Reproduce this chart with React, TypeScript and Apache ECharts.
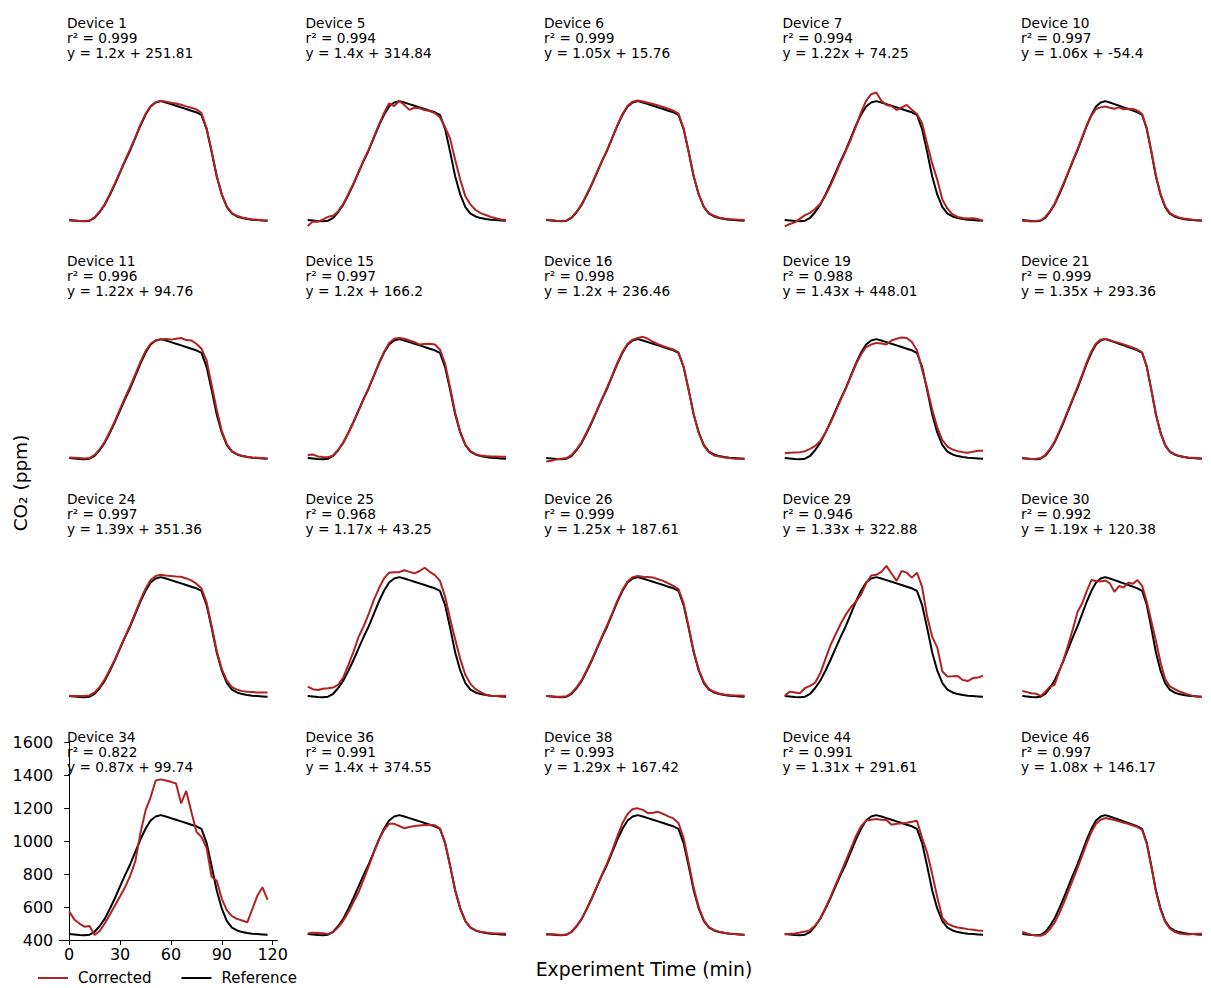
import React, { useEffect, useRef } from "react";
import * as echarts from "echarts";

// Time grid (min)
const T = [0, 3, 6, 9, 12, 15, 18, 21, 24, 27, 30, 33, 36, 39, 42, 45, 48, 51, 54, 57, 60, 63, 66, 69, 72, 75, 78, 81, 84, 87, 90, 93, 96, 99, 102, 105, 108, 111, 114, 117];

// Reference instrument CO2 (ppm)
const REF = [436, 433, 430, 429, 432, 450, 485, 530, 590, 655, 725, 795, 860, 935, 1010, 1075, 1125, 1150, 1158, 1150, 1140, 1130, 1120, 1110, 1100, 1090, 1075, 990, 850, 700, 590, 515, 475, 458, 448, 442, 438, 436, 434, 432];

// Corrected device CO2 (ppm)
const D1 = [434, 432, 430, 431, 433, 452, 488, 532, 595, 660, 730, 800, 868, 940, 1015, 1080, 1128, 1152, 1160, 1155, 1148, 1143, 1136, 1126, 1118, 1108, 1085, 995, 855, 705, 592, 518, 478, 462, 452, 446, 441, 438, 435, 433];
const D5 = [400, 428, 426, 440, 456, 462, 490, 535, 595, 658, 728, 800, 865, 940, 1015, 1085, 1145, 1128, 1160, 1135, 1105, 1118, 1115, 1104, 1098, 1085, 1060, 1000, 930, 800, 680, 580, 530, 497, 478, 467, 455, 447, 440, 436];
const D6 = [438, 436, 432, 431, 434, 452, 487, 533, 594, 658, 728, 798, 864, 938, 1012, 1080, 1130, 1155, 1162, 1156, 1148, 1140, 1132, 1122, 1112, 1100, 1082, 995, 852, 702, 590, 516, 478, 462, 452, 446, 442, 440, 438, 436];
const D7 = [398, 412, 422, 445, 466, 480, 505, 535, 585, 645, 715, 788, 855, 925, 1005, 1090, 1160, 1200, 1210, 1160, 1135, 1128, 1104, 1120, 1135, 1105, 1080, 1025, 900, 780, 680, 560, 505, 470, 455, 448, 445, 447, 442, 432];
const D10 = [432, 430, 428, 430, 435, 455, 490, 535, 598, 662, 730, 800, 868, 940, 1012, 1070, 1110, 1120, 1125, 1118, 1112, 1120, 1108, 1112, 1110, 1100, 1080, 995, 855, 705, 595, 520, 480, 462, 452, 446, 442, 438, 436, 434];
const D11 = [440, 438, 436, 434, 436, 455, 490, 535, 598, 662, 735, 805, 872, 945, 1020, 1085, 1130, 1150, 1155, 1158, 1155, 1160, 1165, 1152, 1150, 1130, 1100, 1030, 880, 730, 600, 520, 478, 460, 450, 444, 440, 438, 436, 434];
const D15 = [455, 458, 446, 442, 441, 452, 485, 530, 590, 655, 725, 795, 862, 936, 1012, 1080, 1135, 1160, 1165, 1160, 1150, 1140, 1125, 1128, 1130, 1125, 1095, 1010, 865, 710, 595, 518, 478, 460, 452, 448, 446, 445, 444, 444];
const D16 = [415, 420, 428, 432, 436, 455, 490, 535, 596, 660, 728, 798, 866, 940, 1015, 1082, 1130, 1155, 1165, 1172, 1160, 1142, 1128, 1115, 1105, 1095, 1078, 992, 850, 700, 588, 510, 470, 452, 445, 440, 436, 432, 434, 430];
const D19 = [465, 468, 470, 472, 478, 492, 510, 540, 590, 650, 718, 790, 858, 930, 1005, 1065, 1110, 1125, 1135, 1132, 1125, 1150, 1160, 1168, 1165, 1140, 1090, 975, 860, 730, 620, 545, 505, 488, 478, 472, 468, 475, 480, 481];
const D21 = [434, 432, 431, 432, 436, 455, 490, 536, 598, 662, 732, 802, 870, 942, 1018, 1085, 1132, 1155, 1160, 1152, 1143, 1135, 1126, 1116, 1106, 1095, 1078, 995, 852, 702, 590, 515, 476, 460, 450, 444, 440, 438, 436, 434];
const D24 = [438, 437, 436, 436, 440, 458, 492, 538, 598, 660, 730, 800, 868, 942, 1018, 1088, 1140, 1165, 1172, 1168, 1165, 1162, 1160, 1150, 1138, 1118, 1090, 1005, 862, 710, 600, 530, 490, 475, 466, 462, 460, 458, 458, 457];
const D25 = [493, 478, 473, 480, 483, 488, 505, 550, 625, 705, 795, 860, 935, 1020, 1090, 1150, 1185, 1187, 1188, 1200, 1190, 1181, 1195, 1215, 1190, 1170, 1135, 1040, 905, 780, 660, 564, 510, 478, 460, 445, 438, 437, 438, 438];
const D26 = [437, 435, 432, 432, 435, 455, 490, 535, 596, 660, 730, 800, 868, 940, 1015, 1082, 1132, 1158, 1165, 1160, 1158, 1155, 1145, 1135, 1120, 1105, 1085, 1000, 858, 708, 595, 520, 480, 462, 452, 446, 442, 440, 440, 438];
const D29 = [438, 463, 458, 453, 485, 498, 518, 575, 660, 745, 810, 875, 930, 975, 1010, 1052, 1120, 1168, 1172, 1190, 1226, 1180, 1135, 1195, 1185, 1155, 1185, 1100, 920, 795, 730, 585, 555, 556, 558, 533, 527, 545, 548, 560];
const D30 = [467, 460, 453, 450, 437, 462, 493, 503, 585, 660, 750, 845, 948, 999, 1075, 1140, 1135, 1132, 1138, 1120, 1069, 1104, 1094, 1125, 1118, 1140, 1105, 1010, 890, 770, 640, 540, 495, 479, 465, 455, 445, 437, 433, 430];
const D34 = [572, 525, 500, 481, 485, 430, 455, 502, 555, 610, 665, 722, 790, 879, 1049, 1185, 1266, 1368, 1375, 1368, 1360, 1350, 1230, 1305, 1180, 1058, 1025, 960, 784, 760, 650, 580, 545, 528, 518, 507, 588, 670, 720, 643];
const D36 = [440, 444, 443, 441, 436, 448, 478, 518, 570, 630, 690, 768, 848, 930, 1010, 1068, 1105, 1105, 1092, 1078, 1086, 1092, 1095, 1098, 1098, 1096, 1078, 990, 850, 700, 590, 515, 475, 458, 450, 445, 442, 440, 440, 438];
const D38 = [432, 435, 433, 430, 433, 450, 485, 530, 592, 658, 728, 800, 868, 945, 1030, 1110, 1165, 1195, 1199, 1190, 1170, 1172, 1178, 1165, 1150, 1138, 1110, 1020, 870, 715, 598, 520, 478, 460, 450, 444, 440, 436, 434, 430];
const D44 = [435, 438, 440, 445, 451, 460, 488, 532, 595, 662, 735, 808, 880, 955, 1030, 1090, 1125, 1130, 1134, 1130, 1128, 1100, 1105, 1108, 1112, 1118, 1124, 1020, 930, 800, 660, 535, 500, 485, 476, 471, 466, 462, 458, 456];
const D46 = [451, 440, 432, 428, 426, 438, 465, 505, 560, 625, 695, 768, 838, 912, 988, 1055, 1105, 1130, 1140, 1135, 1128, 1120, 1112, 1105, 1095, 1085, 1068, 985, 845, 695, 585, 510, 470, 450, 440, 436, 434, 436, 438, 438];

const CORRECTED = [D1, D5, D6, D7, D10, D11, D15, D16, D19, D21, D24, D25, D26, D29, D30, D34, D36, D38, D44, D46];
const DEVICE_IDS = [1, 5, 6, 7, 10, 11, 15, 16, 19, 21, 24, 25, 26, 29, 30, 34, 36, 38, 44, 46];
const R2 = ["0.999", "0.994", "0.999", "0.994", "0.997", "0.996", "0.997", "0.998", "0.988", "0.999", "0.997", "0.968", "0.999", "0.946", "0.992", "0.822", "0.991", "0.993", "0.991", "0.997"];
const SLOPES = ["1.2", "1.4", "1.05", "1.22", "1.06", "1.22", "1.2", "1.2", "1.43", "1.35", "1.39", "1.17", "1.25", "1.33", "1.19", "0.87", "1.4", "1.29", "1.31", "1.08"];
const INTERCEPTS = ["251.81", "314.84", "15.76", "74.25", "-54.4", "94.76", "166.2", "236.46", "448.01", "293.36", "351.36", "43.25", "187.61", "322.88", "120.38", "99.74", "374.55", "167.42", "291.61", "146.17"];
const X_TICKS = [0, 30, 60, 90, 120];

const RED = "#b22222";
const BLACK = "#000000";
const FONT = "DejaVu Sans";

export default function App() {
  const ref = useRef<HTMLDivElement>(null);
  useEffect(() => {
    document.body.style.margin = "0";
    const chart = echarts.init(ref.current!, null, { renderer: "svg" });
    const grids: any[] = [];
    const xAxes: any[] = [];
    const yAxes: any[] = [];
    const series: any[] = [];
    const graphics: any[] = [];
    const colW = 238.5;
    const rowH = 238;
    const axisPanel = 15;
    CORRECTED.forEach((vals, i) => {
      const r = Math.floor(i / 5);
      const c = i % 5;
      const showAx = i === axisPanel;
      grids.push({ left: 59.3 + c * colW, top: 28.3 + r * rowH, width: 218.2, height: 197.7, containLabel: false });
      xAxes.push({
        type: "value", gridIndex: i, min: -5.85, max: 122.85, show: showAx,
        axisLine: { show: true, onZero: false, lineStyle: { color: BLACK, width: 1 } },
        axisTick: { show: true, length: 5, customValues: X_TICKS, lineStyle: { color: BLACK } },
        axisLabel: { show: true, customValues: X_TICKS, color: BLACK, fontSize: 16, fontFamily: FONT, margin: 6, formatter: (v: number) => String(v) },
        splitLine: { show: false },
      });
      yAxes.push({
        type: "value", gridIndex: i, min: 400, max: 1600, interval: 200, show: showAx,
        axisLine: { show: true, lineStyle: { color: BLACK, width: 1 } },
        axisTick: { show: true, length: 5, lineStyle: { color: BLACK } },
        axisLabel: { show: true, color: BLACK, fontSize: 16, fontFamily: FONT, margin: 6, formatter: (v: number) => String(v) },
        splitLine: { show: false },
      });
      series.push({
        name: "Reference", type: "line", xAxisIndex: i, yAxisIndex: i, z: 2,
        data: T.map((t, k) => [t, REF[k]]), showSymbol: false, symbol: "none",
        color: BLACK, lineStyle: { color: BLACK, width: 2 }, silent: true,
      });
      series.push({
        name: "Corrected", type: "line", xAxisIndex: i, yAxisIndex: i, z: 3,
        data: T.map((t, k) => [t, vals[k]]), showSymbol: false, symbol: "none",
        color: RED, lineStyle: { color: RED, width: 2 }, silent: true,
      });
      graphics.push({
        type: "text", x: 67 + c * colW, y: 15.3 + r * rowH,
        style: {
          text: `Device ${DEVICE_IDS[i]}\nr² = ${R2[i]}\ny = ${SLOPES[i]}x + ${INTERCEPTS[i]}`,
          fontSize: 13.7, fontFamily: FONT, fill: "#000", lineHeight: 15, verticalAlign: "top", align: "left",
        },
      });
    });
    graphics.push({
      type: "text", x: 20, y: 483, rotation: Math.PI / 2,
      style: { text: "CO₂ (ppm)", fontSize: 18.5, fontFamily: FONT, fill: "#000", align: "center", verticalAlign: "middle" },
    });
    graphics.push({
      type: "text", x: 644, y: 969,
      style: { text: "Experiment Time (min)", fontSize: 18.8, fontFamily: FONT, fill: "#000", align: "center", verticalAlign: "middle" },
    });
    chart.setOption({
      animation: false,
      backgroundColor: "#fff",
      grid: grids,
      xAxis: xAxes,
      yAxis: yAxes,
      series,
      graphic: graphics,
      legend: {
        data: ["Corrected", "Reference"], left: 38, top: 970.5, padding: 0, icon: "rect", itemWidth: 30, itemHeight: 2,
        itemGap: 30, selectedMode: false,
        textStyle: { fontSize: 15, fontFamily: FONT, color: "#000", padding: [0, 0, 0, 5] },
      },
    });
    return () => chart.dispose();
  }, []);
  return <div ref={ref} style={{ position: "fixed", left: 0, top: 0, width: 1211, height: 988 }} />;
}
